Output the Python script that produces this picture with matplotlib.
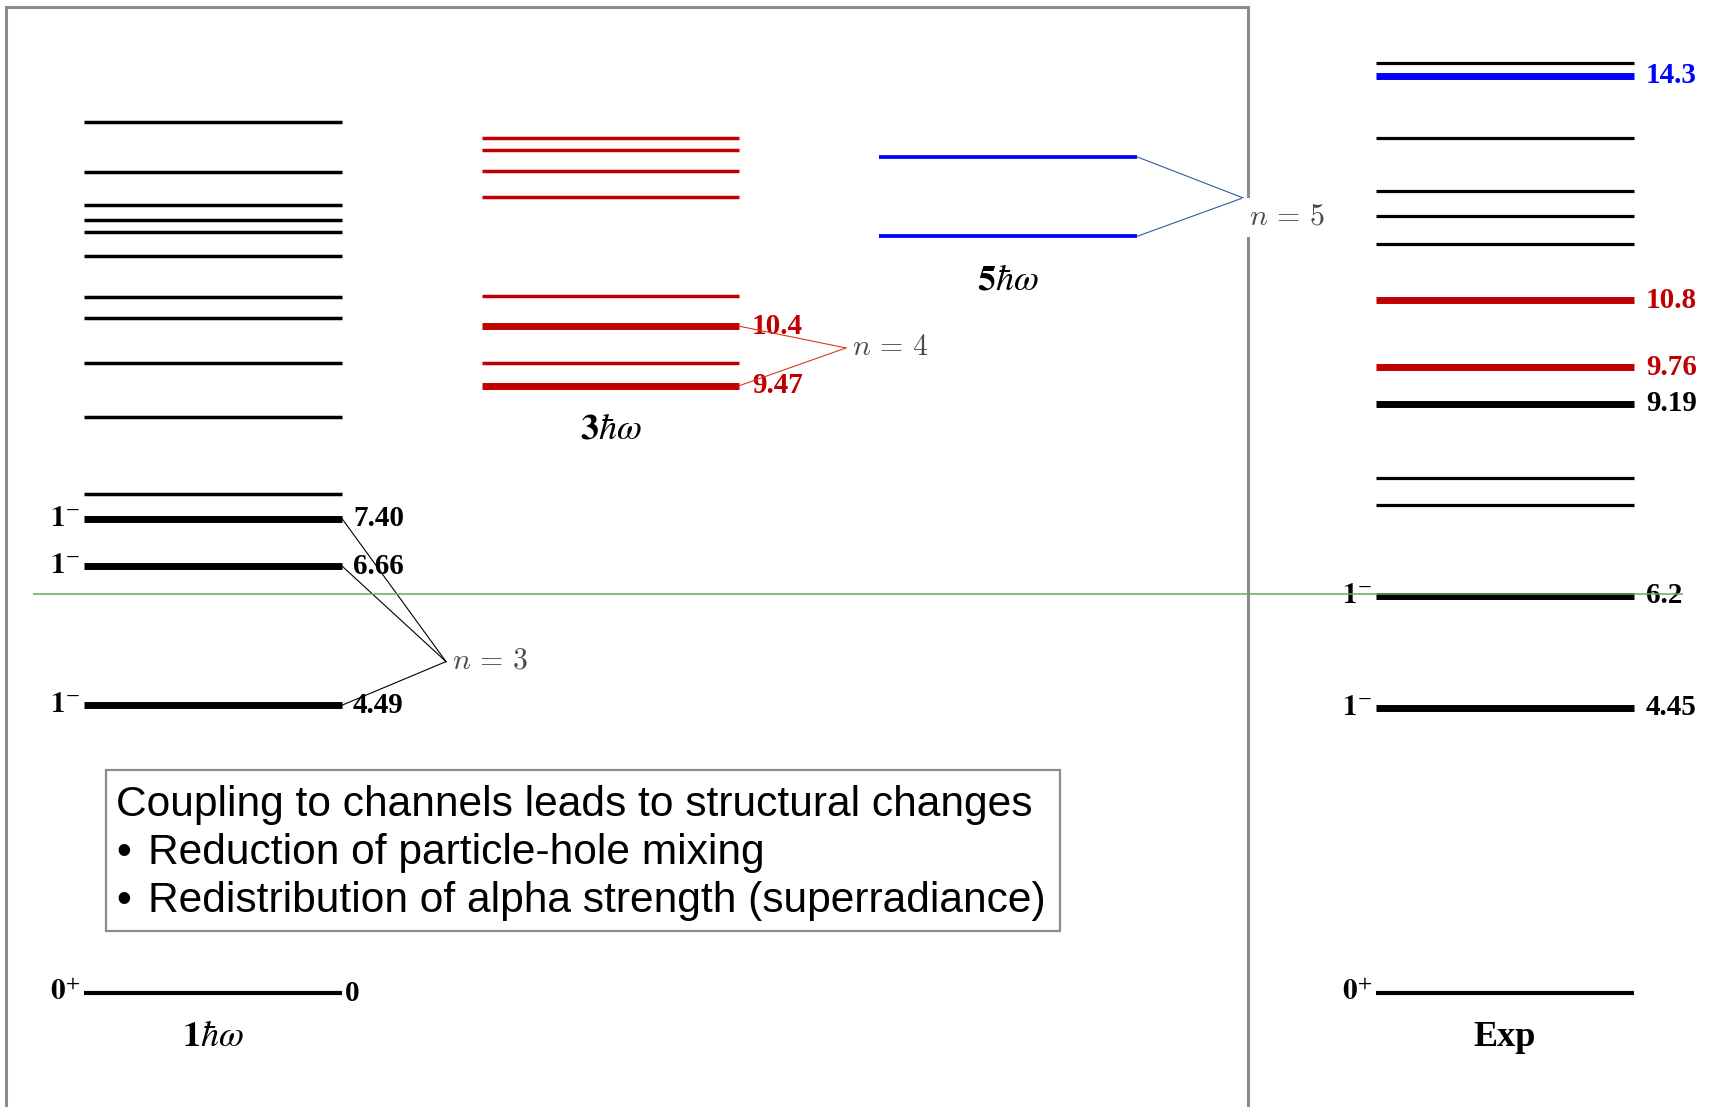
import matplotlib
matplotlib.use('Agg')
import matplotlib.pyplot as plt
from matplotlib.patches import Rectangle

plt.rcParams['mathtext.fontset'] = 'stix'
plt.rcParams['font.family'] = ['Liberation Serif', 'DejaVu Serif']

# level energies (MeV)
col1_thin = [13.59, 12.80, 12.29, 12.05, 11.87, 11.49, 10.86, 10.53, 9.83, 8.98, 7.78]
col1_strong = [7.40, 6.66, 4.49]
col1_strong_labels = ['7.40', '6.66', '4.49']

col3_thin = [13.33, 13.15, 12.82, 12.41, 10.87, 9.82]
col3_strong = [10.4, 9.47]
col3_strong_labels = ['10.4', '9.47']

col5_levels = [13.04, 11.80]

exp_thin = [14.50, 13.33, 12.50, 12.12, 11.68, 8.04, 7.61]
exp_strong = [14.3, 10.8, 9.76, 9.19, 6.2, 4.45]
exp_strong_labels = ['14.3', '10.8', '9.76', '9.19', '6.2', '4.45']
exp_strong_colors = ['#0000ff', '#c00000', '#c00000', 'black', 'black', 'black']
exp_spin = ['', '', '', '', r'$\mathbf{1}^{-}$', r'$\mathbf{1}^{-}$']

ground = 0.0
threshold = 6.22

# n-groupings: connected levels and meeting energy
n3_levels, n3_point = [7.40, 6.66, 4.49], 5.17
n4_levels, n4_point = [10.4, 9.47], 10.06
n5_levels, n5_point = [13.04, 11.80], 12.40

# column x-extents (pixels)
c1 = (84, 342)
c3 = (482, 739)
c5 = (879, 1137)
ce = (1376, 1634)

RED = '#c00000'
BLUE = '#0000ff'

fig = plt.figure(figsize=(17.17, 11.07), dpi=100)
ax = fig.add_axes([0, 0, 1, 1])
ax.set_xlim(0, 1717)
ax.set_ylim(-(1107 - 993.2) / 64.14, 993.2 / 64.14)
ax.axis('off')

# outer frame
ax.plot([5.5 / 1717, 5.5 / 1717, 1248 / 1717, 1248 / 1717], [0, 1 - 6.6 / 1107, 1 - 6.6 / 1107, 0],
        transform=ax.transAxes, color='#8c8c8c', lw=2.2, zorder=1, solid_joinstyle='miter')

# threshold line
ax.hlines(threshold, 33, 1683, color='#64a864', lw=1.1, zorder=5)

thin_lw, thick_lw = 2.5, 5.0
lab_fs = 21

# 1hw column
ax.hlines(col1_thin, *c1, color='black', lw=thin_lw)
ax.hlines(col1_strong, *c1, color='black', lw=thick_lw)
ax.hlines(ground, *c1, color='black', lw=3)
for e, lab in zip(col1_strong, col1_strong_labels):
    ax.text(c1[1] + 11, e, lab, fontsize=lab_fs, fontweight='bold', va='center', ha='left')
    ax.text(c1[0] - 4, e, r'$\mathbf{1}^{-}$', fontsize=lab_fs, va='center', ha='right')
ax.text(c1[1] + 3, ground, '0', fontsize=lab_fs, fontweight='bold', va='center', ha='left')
ax.text(c1[0] - 4, ground, r'$\mathbf{0}^{+}$', fontsize=lab_fs, va='center', ha='right')

# 3hw column
ax.hlines(col3_thin, *c3, color=RED, lw=thin_lw)
ax.hlines(col3_strong, *c3, color=RED, lw=thick_lw)
for e, lab in zip(col3_strong, col3_strong_labels):
    ax.text(c3[1] + 13, e, lab, fontsize=lab_fs, fontweight='bold', color=RED, va='center', ha='left')

# 5hw column
ax.hlines(col5_levels, *c5, color=BLUE, lw=2.7)

# experiment
ax.hlines(exp_thin, *ce, color='black', lw=2.3)
ax.hlines(exp_strong, *ce, colors=exp_strong_colors, lw=thick_lw)
ax.hlines(ground, *ce, color='black', lw=3)
for e, lab, col, sp in zip(exp_strong, exp_strong_labels, exp_strong_colors, exp_spin):
    ax.text(ce[1] + 12, e, lab, fontsize=lab_fs, fontweight='bold', color=col, va='center', ha='left')
    if sp:
        ax.text(ce[0] - 4, e, sp, fontsize=lab_fs, va='center', ha='right')
ax.text(ce[0] - 4, ground, r'$\mathbf{0}^{+}$', fontsize=lab_fs, va='center', ha='right')

# n groupings
def bracket(levels, x_end, x_pt, e_pt, color, label, dy=0, box=False):
    for e in levels:
        ax.plot([x_end, x_pt], [e, e_pt], color=color, lw=0.8, zorder=3)
    kw = {}
    if box:
        kw['bbox'] = dict(boxstyle='square,pad=0.22', fc='white', ec='none')
    ax.annotate(label, (x_pt, e_pt), xytext=(4, dy), textcoords='offset points',
                fontsize=21.5, color='#4a4a4a', va='center', ha='left', zorder=6,
                math_fontfamily='cm', **kw)

bracket(n3_levels, c1[1], 446, n3_point, 'black', r'$n\,=\,3$')
bracket(n4_levels, c3[1], 846, n4_point, '#d63a20', r'$n\,=\,4$')
bracket(n5_levels, c5[1], 1243, n5_point, '#2f5f9f', r'$n\,=\,5$', dy=-14, box=True)

# column titles
title_fs = 26
for xr, e_low, lab in [(c1, ground, r'$\mathbf{1}\hbar\omega$'),
                       (c3, min(col3_strong), r'$\mathbf{3}\hbar\omega$'),
                       (c5, min(col5_levels), r'$\mathbf{5}\hbar\omega$'),
                       (ce, ground, 'Exp')]:
    ax.annotate(lab, ((xr[0] + xr[1]) / 2, e_low), xytext=(0, -32), textcoords='offset points',
                fontsize=title_fs, fontweight='bold', ha='center', va='center')

# text box
ax.add_patch(Rectangle((106 / 1717, 1 - 931 / 1107), (1060 - 106) / 1717, (931 - 770) / 1107,
                       transform=ax.transAxes, fc='white', ec='#8c8c8c', lw=1.6, zorder=4))
box_title = 'Coupling to channels leads to structural changes'
box_bullets = ['Reduction of particle-hole mixing',
               'Redistribution of alpha strength (superradiance)']
box_kw = dict(transform=ax.transAxes, fontsize=30.6, family='Liberation Sans',
              va='center', ha='left', zorder=5)
ax.text(116 / 1717, 1 - 805 / 1107, box_title, **box_kw)
for i, s in enumerate(box_bullets):
    yy = 1 - (853 + 48 * i) / 1107
    ax.text(116 / 1717, yy, '\u2022', **box_kw)
    ax.text(148 / 1717, yy, s, **box_kw)

fig.savefig('out.png', dpi=100)
